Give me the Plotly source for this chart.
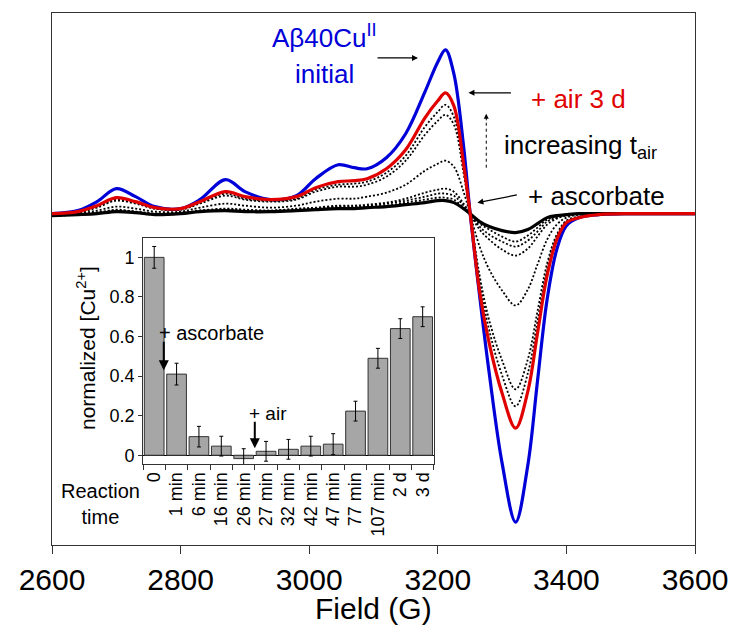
import plotly.graph_objects as go

# ---------------- main EPR spectra (arbitrary intensity units) ----------------
field = [2600, 2640, 2670, 2700, 2730, 2760, 2800, 2830, 2870, 2900, 2940, 2980,
         3010, 3045, 3070, 3090, 3120, 3150, 3180, 3200, 3212, 3225, 3240, 3250,
         3265, 3280, 3300, 3321, 3340, 3355, 3370, 3385, 3400, 3420, 3450, 3500,
         3550, 3600]

initial = [0, 3, 12, 25, 17, 7, 5, 14, 34, 22, 14, 18,
           35, 49, 46, 45, 56, 80, 122, 152, 164, 140, 68, 2,
           -82, -160, -250, -309, -252, -168, -86, -36, -12, -4, -1, 0,
           0, 0]

air_3d = [0, 2, 8, 16, 12, 6, 5, 12, 22, 17, 14, 17,
          26, 32, 33, 35, 45, 64, 96, 113, 121, 108, 50, 2,
          -78, -130, -180, -215, -178, -120, -62, -26, -9, -4, -1, 0,
          0, 0]

ascorbate = [-2, -1, 0, 2, 1, -1, 0, 2, 3, 2, 2, 3,
             4, 5, 5, 6, 7, 9, 11, 13, 13, 11, 5, 0,
             -8, -13, -17, -19, -16, -10, -4, -2, -1, 0, 0, 0,
             0, 0]

dotted = [
    [0, 2, 7, 14, 11, 5, 4, 11, 20, 15, 13, 15,
     24, 29, 30, 32, 41, 58, 87, 102, 109, 97, 45, 1,
     -68, -117, -162, -193, -160, -108, -56, -23, -8, -4, -1, 0, 0, 0],
    [0, 1, 6, 13, 10, 5, 4, 10, 18, 14, 12, 14,
     22, 27, 27, 29, 37, 53, 79, 93, 99, 89, 41, 1,
     -62, -107, -147, -176, -146, -98, -50, -21, -7, -3, -1, 0, 0, 0],
    [-1, 0, 3, 7, 5, 2, 2, 6, 10, 8, 6, 8,
     12, 15, 15, 17, 21, 29, 43, 50, 53, 47, 22, 0,
     -33, -56, -77, -92, -76, -51, -26, -11, -4, -1, 0, 0, 0, 0],
    [-2, -1, 1, 4, 2, 0, 1, 3, 5, 4, 3, 5,
     6, 8, 8, 9, 11, 15, 21, 24, 25, 22, 10, 0,
     -16, -26, -36, -42, -35, -23, -11, -5, -2, 0, 0, 0, 0, 0],
    [-2, -1, 1, 3, 2, 0, 0, 3, 4, 3, 3, 4,
     5, 7, 7, 8, 10, 13, 17, 20, 20, 18, 8, 0,
     -13, -21, -28, -33, -27, -18, -8, -4, -1, 0, 0, 0, 0, 0],
    [-2, -1, 0, 2, 1, -1, 0, 2, 4, 2, 2, 3,
     5, 6, 6, 7, 8, 11, 14, 16, 16, 14, 6, 0,
     -10, -16, -23, -28, -22, -14, -6, -3, -1, 0, 0, 0, 0, 0],
]

# ---------------- inset bar chart ----------------
times = ["0", "1 min", "6 min", "16 min", "26 min", "27 min", "32 min",
         "42 min", "47 min", "77 min", "107 min", "2 d", "3 d"]
cu_norm = [1.0, 0.41, 0.094, 0.046, -0.017, 0.02, 0.03, 0.046, 0.056,
           0.223, 0.49, 0.64, 0.70]
cu_err = [0.055, 0.055, 0.052, 0.05, 0.05, 0.05, 0.05, 0.05, 0.053,
          0.05, 0.05, 0.05, 0.05]
inset_ticks = [0, 0.2, 0.4, 0.6, 0.8, 1]
inset_ticktext = ["0", "0.2", "0.4", "0.6", "0.8", "1"]
x_ticks = [2600, 2800, 3000, 3200, 3400, 3600]

W, H = 740, 635
ML, MR, MT, MB = 52, 38, 12, 90
PW, PH = W - ML - MR, H - MT - MB


def px(x):
    return (x - ML) / PW


def py(y):
    return (H - MB - y) / PH


FONT = "Liberation Sans, Arial, sans-serif"
fig = go.Figure()

fig.add_trace(go.Scatter(x=field, y=initial, mode="lines", line_shape="spline",
                         line=dict(color="#0000d8", width=3.2), hoverinfo="skip"))
for d in dotted:
    fig.add_trace(go.Scatter(x=field, y=d, mode="lines", line_shape="spline",
                             line=dict(color="black", width=1.8, dash="2px,2px"),
                             hoverinfo="skip"))
fig.add_trace(go.Scatter(x=field, y=ascorbate, mode="lines", line_shape="spline",
                         line=dict(color="black", width=3.2), hoverinfo="skip"))
fig.add_trace(go.Scatter(x=field, y=air_3d, mode="lines", line_shape="spline",
                         line=dict(color="#e00000", width=3.2), hoverinfo="skip"))

fig.add_trace(go.Bar(x=times, y=cu_norm, xaxis="x2", yaxis="y2", width=0.88,
                     marker=dict(color="#a6a6a6", line=dict(color="#333333", width=1)),
                     error_y=dict(type="data", array=cu_err, color="black",
                                  thickness=1, width=2),
                     hoverinfo="skip"))

fig.update_layout(
    width=W, height=H, showlegend=False,
    margin=dict(l=ML, r=MR, t=MT, b=MB),
    paper_bgcolor="white", plot_bgcolor="white",
    font=dict(family=FONT, color="black"),
    xaxis=dict(range=[2600, 3600], tickvals=x_ticks, ticks="outside", ticklen=8,
               tickcolor="#333", showline=True, linecolor="#333", linewidth=1,
               mirror=True, showgrid=False, zeroline=False,
               tickfont=dict(size=30, family=FONT)),
    yaxis=dict(range=[-332, 201], showticklabels=False, ticks="", showline=True,
               linecolor="#333", linewidth=1, mirror=True, showgrid=False,
               zeroline=False),
    xaxis2=dict(domain=[px(144), px(438)], anchor="y2", type="category",
                range=[-0.5, 12.5], tickson="boundaries", ticks="outside",
                ticklen=5, tickcolor="#333", tickangle=-90, showline=True,
                linecolor="#333", mirror=True, showgrid=False,
                tickfont=dict(size=18, family=FONT)),
    yaxis2=dict(domain=[py(464), py(237)], anchor="x2", range=[-0.045, 1.10],
                tickvals=inset_ticks, ticktext=inset_ticktext, ticks="outside",
                ticklen=4, tickcolor="#333", showline=True, linecolor="#333",
                mirror=True, showgrid=False, zeroline=True,
                zerolinecolor="black", zerolinewidth=1,
                tickfont=dict(size=18, family=FONT)),
)

ann = []


def text(x, y, s, size, color="black", xanchor="center", angle=0):
    ann.append(dict(x=px(x), y=py(y), xref="paper", yref="paper", text=s,
                    showarrow=False, xanchor=xanchor, yanchor="middle",
                    textangle=angle, font=dict(size=size, color=color, family=FONT)))


def arrow(hx, hy, tx, ty, width=1.2, size=1.0, head=2):
    ann.append(dict(x=px(hx), y=py(hy), xref="paper", yref="paper", text="",
                    showarrow=True, ax=tx - hx, ay=ty - hy, axref="pixel",
                    ayref="pixel", arrowhead=head, arrowsize=size,
                    arrowwidth=width, arrowcolor="black"))


text(272, 36, "Aβ40Cu<sup>II</sup>", 26, "#0000d8", xanchor="left")
text(327, 73, "initial", 26, "#0000d8")
text(584, 98, "+ air 3 d", 26, "#e00000")
text(507, 146, "increasing t<sub>air</sub>", 26, xanchor="left")
text(531, 195, "+ ascorbate", 26, xanchor="left")
text(377, 609, "Field (G)", 30)
text(101, 504, "Reaction<br>time", 20)
text(87, 348, "normalized [Cu<sup>2+</sup>]", 21, angle=-90)
text(158, 333, "+ ascorbate", 20, xanchor="left")
text(249, 413, "+ air", 19, xanchor="left")

arrow(422, 57, 380, 57)
arrow(473, 92, 517, 92)
arrow(482, 202, 523, 194)
arrow(491, 113, 491, 121, width=1.0, size=1.0)
arrow(165, 370, 165, 340, width=2, size=1.0)
arrow(257, 448, 257, 420, width=2, size=1.0)

fig.update_layout(annotations=ann)
fig.add_shape(type="line", xref="paper", yref="paper", x0=px(491), x1=px(491),
              y0=py(167), y1=py(120), line=dict(color="black", width=1, dash="dot"))

fig.write_html("out.html")
